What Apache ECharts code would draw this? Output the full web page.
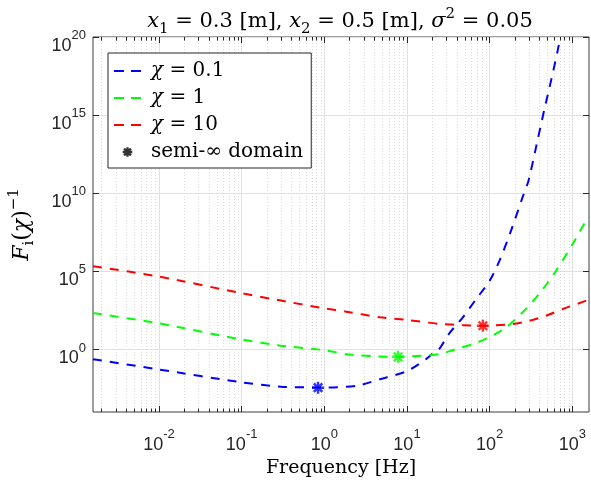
<!DOCTYPE html>
<html>
<head>
<meta charset="utf-8">
<script src="https://cdn.jsdelivr.net/npm/echarts@6/dist/echarts.min.js"></script>
<style>
  html, body { margin: 0; padding: 0; background: #fff; }
  #chart { width: 591px; height: 480px; }
</style>
</head>
<body>
<div id="chart"></div>
<script>
// Frequency span of the sweep: 0.01..1e4 rad/s expressed in Hz
const F_MIN = 0.01 / (2 * Math.PI);
const F_MAX = 1e4 / (2 * Math.PI);
const Y_MIN = 1e-4;
const Y_MAX = 1e20;

// major tick positions
const xTickValues = [0.01, 0.1, 1, 10, 100, 1000];
const yTickValues = [1, 1e5, 1e10, 1e15, 1e20];

// chi = 0.1
const freqChi01 = [0.0015915, 0.01, 0.1, 0.3, 1, 2.45, 4.7, 10, 17, 20.6, 24.5, 32.7, 47.4, 68.9, 100, 132, 182, 251, 295, 380, 457, 556, 668, 713];
const valChi01  = [0.24, 0.0525, 7.9e-3, 4.2e-3, 3.7e-3, 4.7e-3, 0.0126, 0.041, 0.24, 0.56, 1.07, 11.2, 115, 1740, 2.5e4, 5.0e5, 4.2e7, 5.8e9, 6.3e10, 2.5e13, 2.1e15, 1.8e17, 1.5e19, 1e20];

// chi = 1
const freqChi1 = [0.0015915, 0.01, 0.1, 0.3, 1, 1.85, 3.9, 7.8, 10, 24.5, 39.4, 63, 97.7, 158, 251, 398, 638, 1014, 1479, 1591.5];
const valChi1  = [219, 46.8, 4.37, 1.74, 0.91, 0.50, 0.37, 0.34, 0.35, 0.50, 1.07, 2.24, 5.9, 25.7, 240, 3630, 1.12e5, 5.9e6, 1.86e8, 3.2e8];

// chi = 10
const freqChi10 = [0.0015915, 0.01, 0.1, 0.3, 1, 1.85, 4.7, 10, 24.5, 47.4, 82.8, 190, 302, 479, 767, 1479, 1591.5];
const valChi10  = [2.14e5, 4.68e4, 3980, 1350, 427, 263, 115, 77.6, 43.7, 36.3, 33.1, 42.7, 69.2, 145, 389, 1350, 1660];

// start of the semi-infinite domain for each chi
const markerFreq = [0.84, 7.8, 82.8];
const markerVal  = [3.6e-3, 0.34, 33.1];

const seriesNames  = ['χ = 0.1', 'χ = 1', 'χ = 10'];
const seriesColors = ['#0000ff', '#00ff00', '#ff0000'];
const markerName   = 'semi-∞ domain';

const SERIF = 'DejaVu Serif';
const SANS = 'Liberation Sans';
const INK = '#262626';
const DASH = [9, 8];

// 2..9 x 10^k positions for the minor grid of the log frequency axis
const minorTicks = [];
for (let k = -3; k <= 3; k++) {
  for (let m = 2; m <= 9; m++) {
    const v = m * Math.pow(10, k);
    if (v > F_MIN && v < F_MAX) minorTicks.push([v, Y_MIN]);
  }
}

// eight-spoke asterisk, optionally padded so it sits centered in a wider box
function asterisk(halfW, padX, padY) {
  let d = '';
  for (const deg of [0, 45, 90, 135]) {
    const r = deg * Math.PI / 180, c = Math.cos(r), s = Math.sin(r);
    const ox = -s * halfW, oy = c * halfW;
    const pts = [[c + ox, s + oy], [-c + ox, -s + oy], [-c - ox, -s - oy], [c - ox, s - oy]];
    d += 'M' + pts.map(p => p[0].toFixed(3) + ' ' + p[1].toFixed(3)).join(' L') + ' Z ';
  }
  if (padX) {
    d += 'M' + (-padX) + ' ' + (-padY) + ' L' + (-padX) + ' ' + (-padY) + ' ';
    d += 'M' + padX + ' ' + padY + ' L' + padX + ' ' + padY;
  }
  return 'path://' + d;
}
const STAR = asterisk(0.2);
const STAR_LEGEND = asterisk(0.24, 2.8, 1.0);

function pairs(xs, ys) { return xs.map((x, i) => [x, ys[i]]); }

function powLabel(v) {
  const e = Math.round(Math.log10(v));
  return '{b|10}{e|' + e + '}';
}
const powRich = {
  b: { fontFamily: SANS, fontSize: 18, lineHeight: 26, verticalAlign: 'bottom', color: INK },
  e: { fontFamily: SANS, fontSize: 13, lineHeight: 13, verticalAlign: 'top', color: INK }
};

function mathRich(size) {
  return {
    r:  { fontFamily: SERIF, fontSize: size, lineHeight: 30, color: '#000' },
    i:  { fontFamily: SERIF, fontSize: size, lineHeight: 30, fontStyle: 'italic', color: '#000' },
    sb: { fontFamily: SERIF, fontSize: Math.round(size * 0.7), lineHeight: 15, verticalAlign: 'bottom', color: '#000' },
    sp: { fontFamily: SERIF, fontSize: Math.round(size * 0.7), lineHeight: 15, verticalAlign: 'top', color: '#000' }
  };
}

const lineSeries = [freqChi01, freqChi1, freqChi10].map((xs, k) => ({
  name: seriesNames[k],
  type: 'line',
  data: pairs(xs, [valChi01, valChi1, valChi10][k]),
  symbol: 'none',
  smooth: 0.25,
  z: 3,
  lineStyle: { color: seriesColors[k], width: 2, type: DASH },
  itemStyle: { color: seriesColors[k] }
}));

function legendLine(k) {
  return {
    name: seriesNames[k],
    itemStyle: { opacity: 0 },
    lineStyle: { color: seriesColors[k], width: 2, type: [10, 7] }
  };
}

function logAxis(extra) {
  return Object.assign({
    type: 'log', logBase: 10,
    axisLine: { show: false },
    minorTick: { show: false }, minorSplitLine: { show: false }
  }, extra);
}

const option = {
  animation: false,
  backgroundColor: '#fff',
  grid: {
    left: 93, right: 2, top: 37, bottom: 68,
    show: true, backgroundColor: '#fff', borderColor: '#3a3a3a', borderWidth: 1,
    outerBoundsMode: 'none', containLabel: false
  },
  graphic: [{
    type: 'text', x: 340, y: 22, z: 10,
    style: {
      text: '{i|x}{sb|1}{r| = 0.3 [m], }{i|x}{sb|2}{r| = 0.5 [m], }{i|σ}{sp|2}{r| = 0.05}',
      align: 'center', verticalAlign: 'middle', rich: mathRich(21)
    }
  }],
  legend: {
    orient: 'vertical', left: 108, top: 53,
    itemWidth: 27, itemHeight: 10, itemGap: 5,
    padding: [7, 8, 5, 5],
    backgroundColor: '#fff', borderColor: INK, borderWidth: 1, borderRadius: 0,
    data: [legendLine(0), legendLine(1), legendLine(2), { name: markerName, icon: STAR_LEGEND }],
    formatter: name => name === markerName
      ? '{m|' + name + '}'
      : '{c|χ}{r| = ' + name.split('= ')[1] + '}',
    textStyle: {
      fontFamily: SERIF, fontSize: 20, lineHeight: 22, color: '#000',
      rich: {
        c: { fontFamily: SERIF, fontSize: 20, fontStyle: 'italic', padding: [0, 0, 0, 5], color: '#000' },
        r: { fontFamily: SERIF, fontSize: 20, color: '#000' },
        m: { fontFamily: SERIF, fontSize: 20, padding: [0, 0, 0, 5], color: '#000' }
      }
    }
  },
  xAxis: [logAxis({
    min: F_MIN, max: F_MAX,
    name: 'Frequency [Hz]', nameLocation: 'middle', nameGap: 46,
    nameTextStyle: { fontFamily: SERIF, fontSize: 19, color: '#000' },
    axisTick: { show: true, inside: true, length: 6, lineStyle: { color: INK }, customValues: xTickValues },
    axisLabel: { margin: 16, formatter: powLabel, rich: powRich, customValues: xTickValues },
    splitLine: { show: true, lineStyle: { color: '#e1e1e1', width: 1 } }
  }), logAxis({
    min: F_MIN, max: F_MAX, position: 'top',
    axisTick: { show: true, inside: true, length: 6, lineStyle: { color: INK }, customValues: xTickValues },
    axisLabel: { show: false }, splitLine: { show: false }
  })],
  yAxis: [logAxis({
    min: Y_MIN, max: Y_MAX,
    name: '{i|F}{sb|i}{r|(}{i|χ}{r|)}{sp|−1}', nameLocation: 'middle', nameGap: 56,
    nameTextStyle: { rich: mathRich(22) },
    axisTick: { show: true, inside: true, length: 6, lineStyle: { color: INK }, customValues: yTickValues },
    axisLabel: { margin: 7, formatter: powLabel, rich: powRich, padding: [10, 0, 0, 0], customValues: yTickValues },
    splitLine: { show: true, lineStyle: { color: '#e1e1e1', width: 1 } }
  }), logAxis({
    min: Y_MIN, max: Y_MAX, position: 'right',
    axisTick: { show: true, inside: true, length: 6, lineStyle: { color: INK }, customValues: yTickValues },
    axisLabel: { show: false }, splitLine: { show: false }
  })],
  series: [
    {
      type: 'custom', silent: true, z: 1,
      data: minorTicks,
      encode: { x: 0, y: 1 },
      renderItem(params, api) {
        const v = api.value(0);
        const pb = api.coord([v, Y_MIN]);
        const pt = api.coord([v, Y_MAX]);
        const x = Math.round(pb[0]) + 0.5;
        return {
          type: 'group',
          children: [
            { type: 'line', shape: { x1: x, y1: pt[1], x2: x, y2: pb[1] },
              style: { stroke: '#dcdcdc', lineWidth: 1, lineDash: [1, 2] } },
            { type: 'line', shape: { x1: x, y1: pb[1], x2: x, y2: pb[1] - 3.5 },
              style: { stroke: INK, lineWidth: 1 } },
            { type: 'line', shape: { x1: x, y1: pt[1], x2: x, y2: pt[1] + 3.5 },
              style: { stroke: INK, lineWidth: 1 } }
          ]
        };
      }
    },
    ...lineSeries,
    {
      name: markerName,
      type: 'scatter',
      z: 4,
      symbol: STAR,
      symbolSize: 12,
      itemStyle: { color: '#000' },
      data: markerFreq.map((f, i) => ({ value: [f, markerVal[i]], itemStyle: { color: seriesColors[i] } }))
    }
  ]
};

const chart = echarts.init(document.getElementById('chart'), null, { renderer: 'canvas' });
chart.setOption(option);
</script>
</body>
</html>
